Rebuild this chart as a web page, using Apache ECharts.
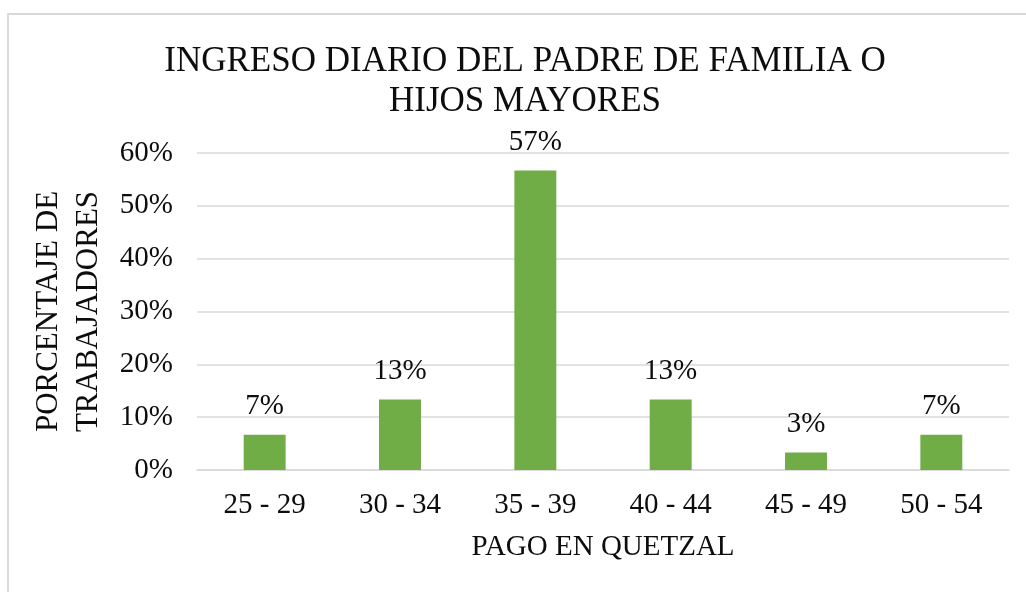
<!DOCTYPE html>
<html>
<head>
<meta charset="utf-8">
<script src="https://cdn.jsdelivr.net/npm/echarts@6/dist/echarts.min.js"></script>
<style>
    html, body { margin: 0; padding: 0; background: #fff; }
    #frame {
        position: absolute; left: 7px; top: 13px;
        width: 1100px; height: 700px;
        border: 2px solid #d9d9d9;
    }
    #chart { position: absolute; left: 0; top: 0; width: 1026px; height: 592px; }
</style>
</head>
<body>
<div id="frame"></div>
<div id="chart"></div>
<script>
    // rangos de pago (quetzales) y porcentaje de trabajadores
    const categories = ['25 - 29', '30 - 34', '35 - 39', '40 - 44', '45 - 49', '50 - 54'];
    const percentValues = [6.67, 13.33, 56.67, 13.33, 3.33, 6.67];
    const yTicks = { min: 0, max: 60, interval: 10 };

    const serif = 'Liberation Serif';
    const black = '#0d0d0d';

    let chart = echarts.init(document.getElementById('chart'));
    let option = {
        animation: false,
        title: {
            text: 'INGRESO DIARIO DEL PADRE DE FAMILIA O\nHIJOS MAYORES',
            left: 520,
            textAlign: 'center',
            top: 37,
            textStyle: {
                fontFamily: serif,
                fontWeight: 'normal',
                fontSize: 35,
                lineHeight: 40,
                color: black
            }
        },
        grid: {
            left: 197,
            right: 17,
            top: 153,
            bottom: 122
        },
        xAxis: {
            type: 'category',
            data: categories,
            name: 'PAGO EN QUETZAL',
            nameLocation: 'middle',
            nameGap: 63,
            nameTextStyle: { fontFamily: serif, fontSize: 29, color: black },
            axisLine: { lineStyle: { color: '#d9d9d9', width: 1.5 } },
            axisTick: { show: false },
            axisLabel: {
                fontFamily: serif,
                fontSize: 29,
                color: black,
                margin: 21
            }
        },
        yAxis: {
            type: 'value',
            min: yTicks.min,
            max: yTicks.max,
            interval: yTicks.interval,
            name: 'PORCENTAJE DE\nTRABAJADORES',
            nameLocation: 'middle',
            nameGap: 84,
            nameTextStyle: { fontFamily: serif, fontSize: 31, color: black, lineHeight: 40 },
            axisLine: { show: false },
            axisTick: { show: false },
            axisLabel: {
                formatter: '{value}%',
                fontFamily: serif,
                fontSize: 29,
                color: black,
                margin: 24
            },
            splitLine: { lineStyle: { color: '#d9d9d9', width: 1.5 } }
        },
        series: [{
            type: 'bar',
            data: percentValues,
            barWidth: '31%',
            itemStyle: { color: '#70ad47' },
            label: {
                show: true,
                position: 'top',
                distance: 14,
                fontFamily: serif,
                fontSize: 29,
                color: black,
                formatter: function (p) { return Math.round(p.value) + '%'; }
            }
        }]
    };
    chart.setOption(option);
</script>
</body>
</html>
